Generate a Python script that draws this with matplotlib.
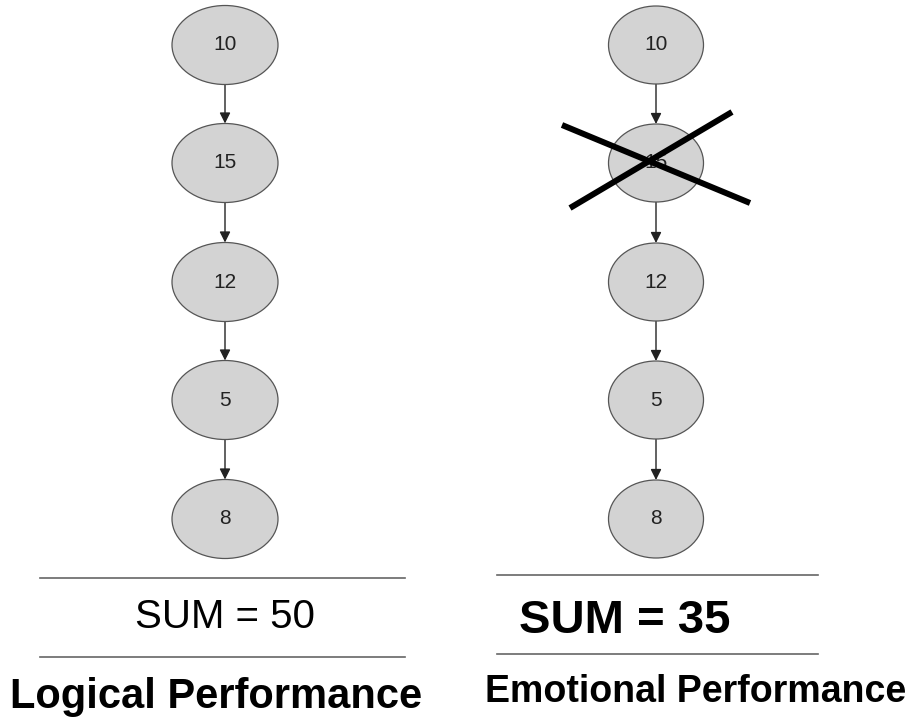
import matplotlib
matplotlib.use("Agg")
import matplotlib.pyplot as plt
from matplotlib.patches import Ellipse

# Data
left_values = [10, 15, 12, 5, 8]
right_values = [10, 15, 12, 5, 8]
left_sum_label = "SUM = 50"
right_sum_label = "SUM = 35"
left_title = "Logical Performance"
right_title = "Emotional Performance"
crossed_index = 1  # node "15" in right chain is crossed out

W, H = 914, 717
fig = plt.figure(figsize=(W / 100, H / 100), dpi=100)
ax = fig.add_axes([0, 0, 1, 1])
ax.set_xlim(0, W)
ax.set_ylim(H, 0)
ax.axis("off")

FONT = ["Liberation Sans", "DejaVu Sans"]
node_y = [45, 163, 282, 400, 519]


def draw_chain(values, cx, w, h):
    for i, v in enumerate(values):
        y = node_y[i]
        ax.add_patch(Ellipse((cx, y), w, h, facecolor="#d3d3d3",
                             edgecolor="#555555", lw=0.9, zorder=2))
        ax.text(cx, y, str(v), ha="center", va="center", fontsize=15,
                family=FONT, color="#222222", zorder=3)
        if i < len(values) - 1:
            y0 = y + h / 2
            y1 = node_y[i + 1] - h / 2
            ax.annotate("", xy=(cx, y1), xytext=(cx, y0),
                        arrowprops=dict(arrowstyle="-|>", color="#222222",
                                        lw=1.0, mutation_scale=16,
                                        shrinkA=0, shrinkB=0), zorder=1)


draw_chain(left_values, 225, 106, 79)
draw_chain(right_values, 656, 95, 78)

# Cross over node
ax.plot([562, 750], [125, 203], color="black", lw=4.3, solid_capstyle="butt", zorder=4)
ax.plot([570, 732], [208, 112], color="black", lw=4.3, solid_capstyle="butt", zorder=4)

# Separator lines
for (x0, x1, ys) in [(40, 405, (578, 657)), (497, 818, (575, 654))]:
    for y in ys:
        ax.plot([x0, x1], [y, y], color="#666666", lw=1.2)

ax.text(225, 617, left_sum_label, ha="center", va="center", fontsize=29, family=FONT)
ax.text(625, 621, right_sum_label, ha="center", va="center", fontsize=34,
        fontweight="bold", family=FONT)
ax.text(216, 697, left_title, ha="center", va="center", fontsize=30,
        fontweight="bold", family=FONT)
ax.text(696, 692, right_title, ha="center", va="center", fontsize=27,
        fontweight="bold", family=FONT)

fig.savefig("out.png", dpi=100)
